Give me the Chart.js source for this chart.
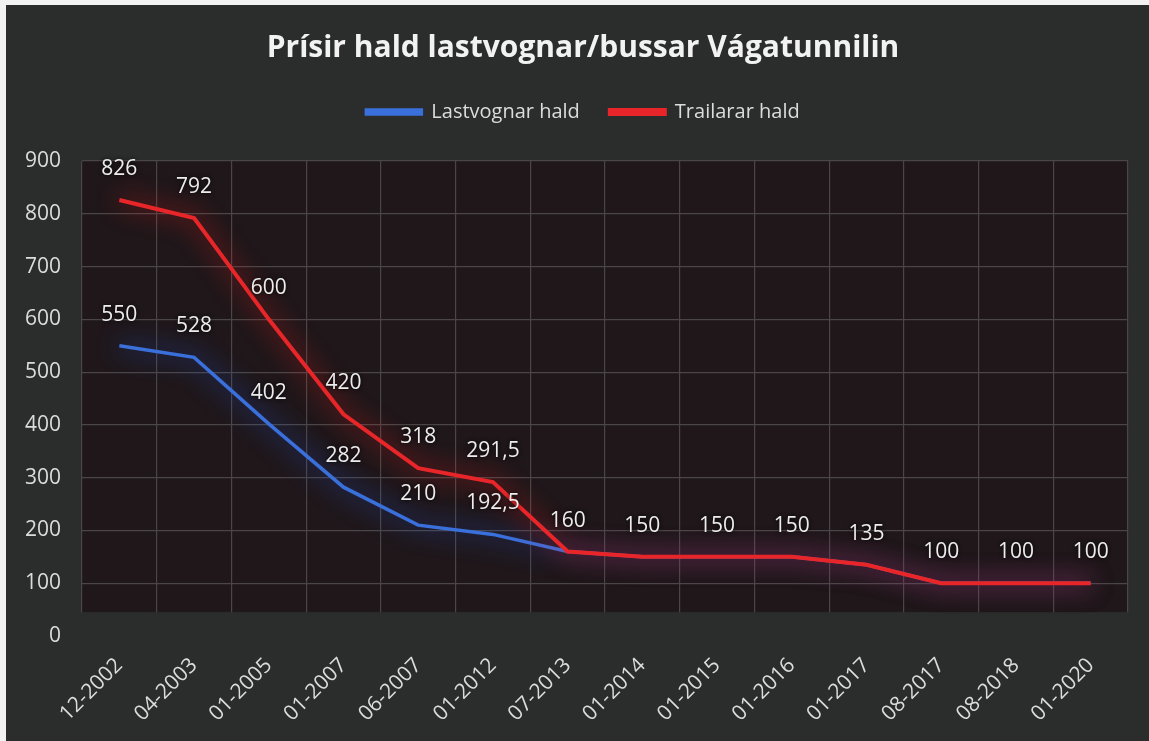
<!DOCTYPE html>
<html><head><meta charset="utf-8">
<script src="https://cdn.jsdelivr.net/npm/chart.js@4"></script>
<style>
html,body{margin:0;padding:0;background:#f2f2f2;overflow:hidden;}
#wrap{position:absolute;left:6px;top:5px;width:1143px;height:736px;background:#2b2c2c;}
</style></head><body>
<div id="wrap"><canvas id="c"></canvas></div>
<script>
const categories = ['12-2002','04-2003','01-2005','01-2007','06-2007','01-2012','07-2013','01-2014','01-2015','01-2016','01-2017','08-2017','08-2018','01-2020'];
const lastvognar = [550,528,402,282,210,192.5,160,150,150,150,135,100,100,100];
const trailarar  = [826,792,600,420,318,291.5,160,150,150,150,135,100,100,100];
const yTicks = [0,100,200,300,400,500,600,700,800,900];

const FONT = '"Open Sans", "Noto Sans", sans-serif';

const bgPlugin = {
  id: 'bg',
  beforeDraw(chart) {
    const {ctx, chartArea: a, scales: {y}} = chart;
    ctx.save();
    ctx.fillStyle = '#2b2c2c';
    ctx.fillRect(0, 0, chart.width, chart.height);
    ctx.fillStyle = '#1f171a';
    const bottom = y.getPixelForValue(45);
    ctx.fillRect(a.left, a.top, a.right - a.left, bottom - a.top);
    ctx.restore();
  },
  beforeDatasetsDraw(chart) {
    const {ctx, chartArea: a, scales: {y}} = chart;
    const bottom = y.getPixelForValue(45);
    ctx.save();
    ctx.fillStyle = '#2b2c2c';
    ctx.fillRect(a.left - 1, bottom, a.right - a.left + 2, a.bottom - bottom + 2);
    ctx.restore();
  }
};
const glowPlugin = {
  id: 'glow',
  beforeDatasetDraw(chart, args) {
    const ds = chart.data.datasets[args.index];
    chart.ctx.save();
    chart.ctx.shadowColor = ds.glow;
    chart.ctx.shadowBlur = 24;
  },
  afterDatasetDraw(chart) { chart.ctx.restore(); }
};
const labelPlugin = {
  id: 'vlabels',
  afterDatasetsDraw(chart) {
    const ctx = chart.ctx;
    ctx.save();
    ctx.font = '21px ' + FONT;
    ctx.fillStyle = '#ececec';
    ctx.textAlign = 'center';
    ctx.textBaseline = 'middle';
    ctx.shadowColor = 'rgba(0,0,0,0.9)';
    ctx.shadowBlur = 4;
    chart.data.datasets.forEach((ds, di) => {
      const meta = chart.getDatasetMeta(di);
      meta.data.forEach((pt, i) => {
        const v = ds.data[i];
        if (v == null) return;
        if (di === 0 && v === trailarar[i]) return;
        ctx.fillText(String(v).replace('.', ','), pt.x, pt.y - 31);
      });
    });
    ctx.restore();
  }
};

new Chart(document.getElementById('c'), {
  type: 'line',
  data: {
    labels: categories,
    datasets: [
      { label: 'Lastvognar hald', data: lastvognar, borderColor: '#3a70dc', backgroundColor: '#3a70dc', glow: 'rgba(40,100,255,0.9)', borderWidth: 3.5, pointRadius: 0, tension: 0, order: 1 },
      { label: 'Trailarar hald', data: trailarar, borderColor: '#e8262a', backgroundColor: '#e8262a', glow: 'rgba(255,30,30,0.9)', borderWidth: 4, pointRadius: 0, tension: 0, order: 0 }
    ]
  },
  options: {
    responsive: true,
    maintainAspectRatio: false,
    animation: false,
    layout: { padding: { left: 11, right: 0, top: 0, bottom: 0 } },
    plugins: {
      title: { display: true, text: 'Prísir hald lastvognar/bussar Vágatunnilin', color: '#f2f2f2', font: { family: FONT, size: 30, weight: 'bold', lineHeight: 1.2 }, padding: { top: 25, bottom: 6 } },
      subtitle: { display: true, text: '', weight: 500, position: 'top', font: { size: 10, lineHeight: 1 }, padding: { top: 19, bottom: 0 } },
      legend: { position: 'top', weight: 1000, labels: { color: '#dcdcdc', font: { family: FONT, size: 20 }, boxWidth: 55, boxHeight: 4, padding: 30, sort: (a, b) => a.datasetIndex - b.datasetIndex } },
      tooltip: { enabled: false }
    },
    scales: {
      x: {
        offset: true,
        grid: { offset: true, color: '#4a4647', lineWidth: 1.2, drawTicks: false },
        border: { display: false },
        ticks: { color: '#dcdcdc', font: { family: FONT, size: 21 }, maxRotation: 45, minRotation: 45, padding: 17, autoSkip: false },
        afterFit(s) { s.height = 105; }
      },
      y: {
        min: 0, max: 900,
        grid: { color: (c) => c.tick && c.tick.value === 0 ? 'rgba(0,0,0,0)' : '#4a4647', lineWidth: 1.2, drawTicks: false },
        border: { display: false },
        ticks: { color: '#dcdcdc', font: { family: FONT, size: 21 }, padding: 21 },
        afterBuildTicks(s) { s.ticks = yTicks.map(v => ({ value: v })); },
        afterFit(s) { s.width = 65; }
      },
      yr: {
        position: 'right',
        display: true,
        grid: { display: false, drawTicks: false },
        border: { display: false },
        ticks: { display: false },
        afterFit(s) { s.width = 21; }
      }
    }
  },
  plugins: [bgPlugin, glowPlugin, labelPlugin]
});
</script>
</body></html>
